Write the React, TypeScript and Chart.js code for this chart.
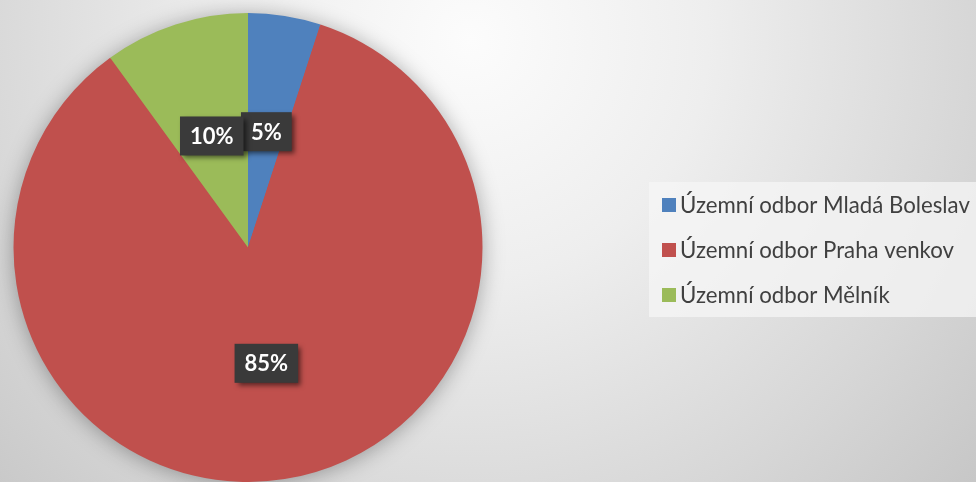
import React, { useEffect, useRef } from "react";
import { Chart, registerables } from "chart.js";

Chart.register(...registerables);

const categories = [
  "Územní odbor Mladá Boleslav",
  "Územní odbor Praha venkov",
  "Územní odbor Mělník",
];
const shares = [5, 85, 10];
const sliceColors = ["#4F81BD", "#C0504D", "#9BBB59"];

const W = 976;
const H = 482;

const backgroundPlugin = {
  id: "bgPlugin",
  beforeDraw(chart: any) {
    const ctx = chart.ctx as CanvasRenderingContext2D;
    ctx.save();
    const g = ctx.createRadialGradient(470, 40, 0, 470, 40, 680);
    g.addColorStop(0, "#fcfcfc");
    g.addColorStop(0.35, "#eeeeee");
    g.addColorStop(0.75, "#d6d6d6");
    g.addColorStop(1, "#c6c6c6");
    ctx.fillStyle = g;
    ctx.fillRect(0, 0, chart.width, chart.height);
    ctx.restore();
  },
  beforeDatasetsDraw(chart: any) {
    const meta = chart.getDatasetMeta(0);
    const el = meta.data[0];
    if (!el) return;
    const ctx = chart.ctx as CanvasRenderingContext2D;
    ctx.save();
    ctx.shadowColor = "rgba(0,0,0,0.35)";
    ctx.shadowBlur = 22;
    ctx.shadowOffsetX = 0;
    ctx.shadowOffsetY = 2;
    ctx.fillStyle = "#C0504D";
    ctx.beginPath();
    ctx.arc(el.x, el.y, el.outerRadius - 1, 0, Math.PI * 2);
    ctx.fill();
    ctx.restore();
  },
};

const labelPlugin = {
  id: "labelPlugin",
  afterDatasetsDraw(chart: any) {
    const ctx = chart.ctx as CanvasRenderingContext2D;
    const meta = chart.getDatasetMeta(0);
    const data = chart.data.datasets[0].data as number[];
    const total = data.reduce((a, b) => a + b, 0);
    ctx.save();
    ctx.font = "bold 22px Lato";
    ctx.textAlign = "center";
    ctx.textBaseline = "middle";
    meta.data.forEach((arc: any, i: number) => {
      const pt = arc.getCenterPoint();
      const txt = Math.round((data[i] / total) * 100) + "%";
      const tw = ctx.measureText(txt).width;
      const bw = tw + 20;
      const bh = 39;
      ctx.save();
      ctx.shadowColor = "rgba(0,0,0,0.55)";
      ctx.shadowBlur = 5;
      ctx.shadowOffsetX = 3;
      ctx.shadowOffsetY = 3;
      ctx.fillStyle = "#3a3a3a";
      ctx.fillRect(pt.x - bw / 2, pt.y - bh / 2, bw, bh);
      ctx.restore();
      ctx.fillStyle = "#ffffff";
      ctx.fillText(txt, pt.x, pt.y + 1);
    });
    ctx.restore();
  },
};

const legendPlugin = {
  id: "legendPlugin",
  afterDraw(chart: any) {
    const ctx = chart.ctx as CanvasRenderingContext2D;
    const labels = chart.data.labels as string[];
    const colors = chart.data.datasets[0].backgroundColor as string[];
    ctx.save();
    ctx.fillStyle = "rgba(245,245,245,0.75)";
    ctx.fillRect(649, 182, W - 649, 135);
    // fit font so the longest label is about 290px
    let size = 20;
    ctx.font = `${size}px Lato`;
    const longest = Math.max(...labels.map((l) => ctx.measureText(l).width));
    size = Math.max(14, Math.min(26, (size * 290) / longest));
    ctx.font = `${size}px Lato`;
    ctx.textBaseline = "middle";
    ctx.textAlign = "left";
    labels.forEach((l, i) => {
      const cy = 205 + i * 45;
      ctx.fillStyle = colors[i];
      ctx.fillRect(662, cy - 7, 14, 14);
      ctx.fillStyle = "#404040";
      ctx.fillText(l, 680, cy + 1);
    });
    ctx.restore();
  },
};

export default function App() {
  const ref = useRef<HTMLCanvasElement | null>(null);
  useEffect(() => {
    document.body.style.margin = "0";
    if (!ref.current) return;
    const chart = new Chart(ref.current, {
      type: "pie",
      data: {
        labels: categories,
        datasets: [
          {
            data: shares,
            backgroundColor: sliceColors,
            borderWidth: 0,
          },
        ],
      },
      options: {
        animation: false,
        responsive: false,
        devicePixelRatio: 1,
        layout: { padding: { left: 12, top: 13, right: 492, bottom: 0 } },
        plugins: {
          legend: { display: false },
          tooltip: { enabled: false },
        },
      },
      plugins: [backgroundPlugin, labelPlugin, legendPlugin],
    });
    return () => chart.destroy();
  }, []);
  return (
    <div style={{ position: "absolute", left: 0, top: 0, width: W, height: H }}>
      <canvas ref={ref} width={W} height={H} style={{ width: W, height: H, display: "block" }} />
    </div>
  );
}
